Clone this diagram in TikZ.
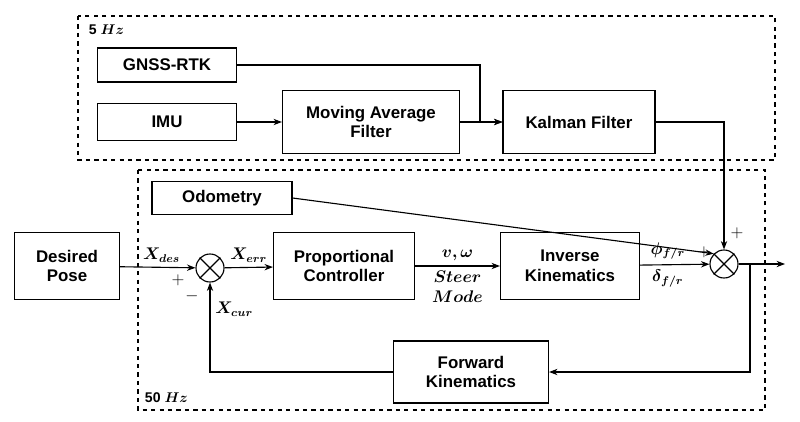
\documentclass[tikz,border=0pt]{standalone}
\usepackage{fontspec}
\usepackage{amsmath,bm}
\setmainfont{Liberation Sans}
\usetikzlibrary{arrows.meta}
\newlength{\pxu}\setlength{\pxu}{0.025cm}
\tikzset{
  blk/.style={draw,thick,align=center,font=\bfseries\large,inner sep=2pt},
  sumnode/.style={draw,thick,circle,minimum size=28\pxu},
  conn/.style={thick,-{Stealth[length=6pt]}},
  zone/.style={thick,dashed},
}
\begin{document}
\begin{tikzpicture}[x=0.025cm,y=-0.025cm]

\useasboundingbox (0,0) rectangle (800,421);

\draw[zone] (78,16) rectangle (775,160);
\draw[zone] (138,170) rectangle (765,410);
\node[font=\bfseries,anchor=west] at (84,30) {5 $\bm{Hz}$};
\node[font=\bfseries,anchor=west] at (140,398) {50 $\bm{Hz}$};

\node[blk,minimum width=139\pxu,minimum height=34\pxu] (gnss) at (167,65) {GNSS-RTK};
\node[blk,minimum width=139\pxu,minimum height=37\pxu] (imu) at (167,122) {IMU};
\node[blk,minimum width=177\pxu,minimum height=63\pxu] (maf) at (371,122) {Moving Average\\Filter};
\node[blk,minimum width=152\pxu,minimum height=63\pxu] (kf) at (579,122) {Kalman Filter};
\node[blk,minimum width=140\pxu,minimum height=33\pxu] (odo) at (222,198) {Odometry};
\node[blk,minimum width=105\pxu,minimum height=67\pxu] (des) at (67,266) {Desired\\Pose};
\node[sumnode] (s1) at (210,268) {};
\node[blk,minimum width=141\pxu,minimum height=67\pxu] (pc) at (344,266) {Proportional\\Controller};
\node[blk,minimum width=139\pxu,minimum height=67\pxu] (ik) at (570,266) {Inverse\\Kinematics};
\node[sumnode] (s2) at (724,264) {};
\node[blk,minimum width=155\pxu,minimum height=62\pxu] (fk) at (471,372) {Forward\\Kinematics};
\coordinate (out) at (785,264);

\draw[thick] (s1.north west) -- (s1.south east) (s1.north east) -- (s1.south west);
\draw[thick] (s2.north west) -- (s2.south east) (s2.north east) -- (s2.south west);

\draw[conn] (gnss.east) -- (480,65) |- (kf.west);
\draw[conn] (imu) -- (maf);
\draw[conn] (maf) -- (kf);
\draw[conn] (kf.east) -| (s2.north);
\draw[conn] (odo.east) -- (s2.north west);
\draw[conn] (des) -- (s1) node[pos=0.55,above,font=\large] {$\bm{X_{des}}$};
\draw[conn] (s1) -- (pc) node[midway,above,font=\large] {$\bm{X_{err}}$};
\draw[conn] (pc) -- (ik) node[midway,above,font=\large] {$\bm{v,\omega}$}
  node[midway,below,font=\large,align=center] {$\bm{Steer}$\\$\bm{Mode}$};
\draw[conn] (ik) -- (s2) node[pos=0.4,above,font=\large] {$\bm{\phi_{f/r}}$}
  node[pos=0.4,below,font=\large] {$\bm{\delta_{f/r}}$};
\draw[conn] (s2) -- (out);
\draw[conn] (750,264) |- (fk.east);
\draw[conn] (fk.west) -| (s1.south) node[pos=0.85,right,font=\large] {$\bm{X_{cur}}$};

\node[font=\large] at (178,280) {$+$};
\node[font=\large] at (192,296) {$-$};
\node[font=\large] at (704,252) {$+$};
\node[font=\large] at (737,233) {$+$};

\end{tikzpicture}
\end{document}
